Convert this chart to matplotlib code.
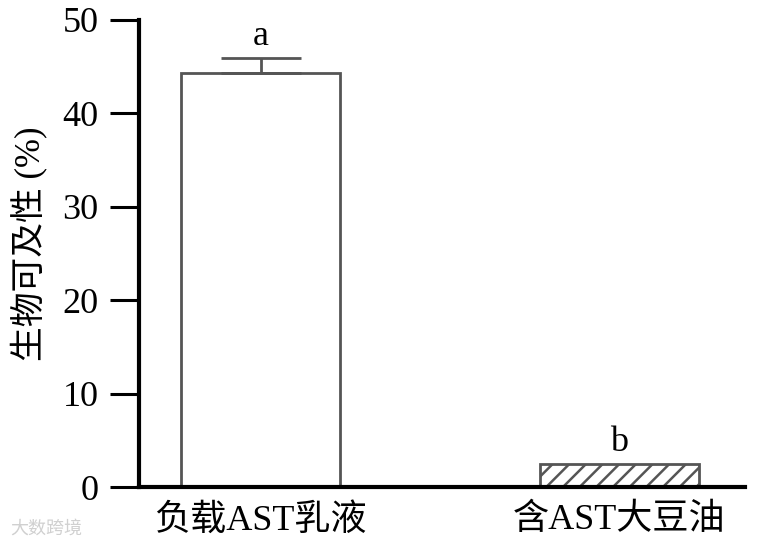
import matplotlib
matplotlib.use('Agg')
import matplotlib.pyplot as plt
import numpy as np

# Data
categories = ['负载AST乳液', '含AST大豆油']
values = [44.3, 2.45]
errors = [1.6, 0.0]
letters = ['a', 'b']
hatches = ['', '//']

plt.rcParams['font.family'] = ['Liberation Serif', 'Noto Sans CJK SC']
plt.rcParams['hatch.linewidth'] = 1.8

fig = plt.figure(figsize=(7.58, 5.43), dpi=100)
ax = fig.add_axes([0.1834, 0.1031, 0.7996, 0.8601])

x = np.arange(len(categories))
bars = ax.bar(x, values, width=0.4435, color='white', edgecolor='#555555', linewidth=2)
for b, h in zip(bars, hatches):
    b.set_hatch(h)
ax.errorbar(x[0], values[0], yerr=[[0], [errors[0]]], fmt='none', ecolor='#555555',
            elinewidth=2, capsize=29, capthick=2)

for xi, v, e, t in zip(x, values, errors, letters):
    ax.text(xi, v + e + 0.6, t, ha='center', va='bottom', fontsize=26)

ax.set_xlim(-0.339, 1.351)
ax.set_ylim(0, 50)
ax.set_yticks([0, 10, 20, 30, 40, 50])
ax.set_xticks(x)
ax.set_xticklabels(categories)
ax.tick_params(axis='y', length=21, width=2.2, labelsize=26, pad=8)
ax.tick_params(axis='x', length=0, labelsize=26, pad=12)
ax.set_ylabel('生物可及性 (%)', fontsize=25)
ax.yaxis.set_label_coords(-0.152, 0.52)

for s in ['top', 'right']:
    ax.spines[s].set_visible(False)
ax.spines['left'].set_linewidth(3)
ax.spines['bottom'].set_linewidth(3)

fig.text(0.013, 0.018, '大数跨境', fontsize=13, color='#d0d0d0')

plt.savefig('out.png', dpi=100)
